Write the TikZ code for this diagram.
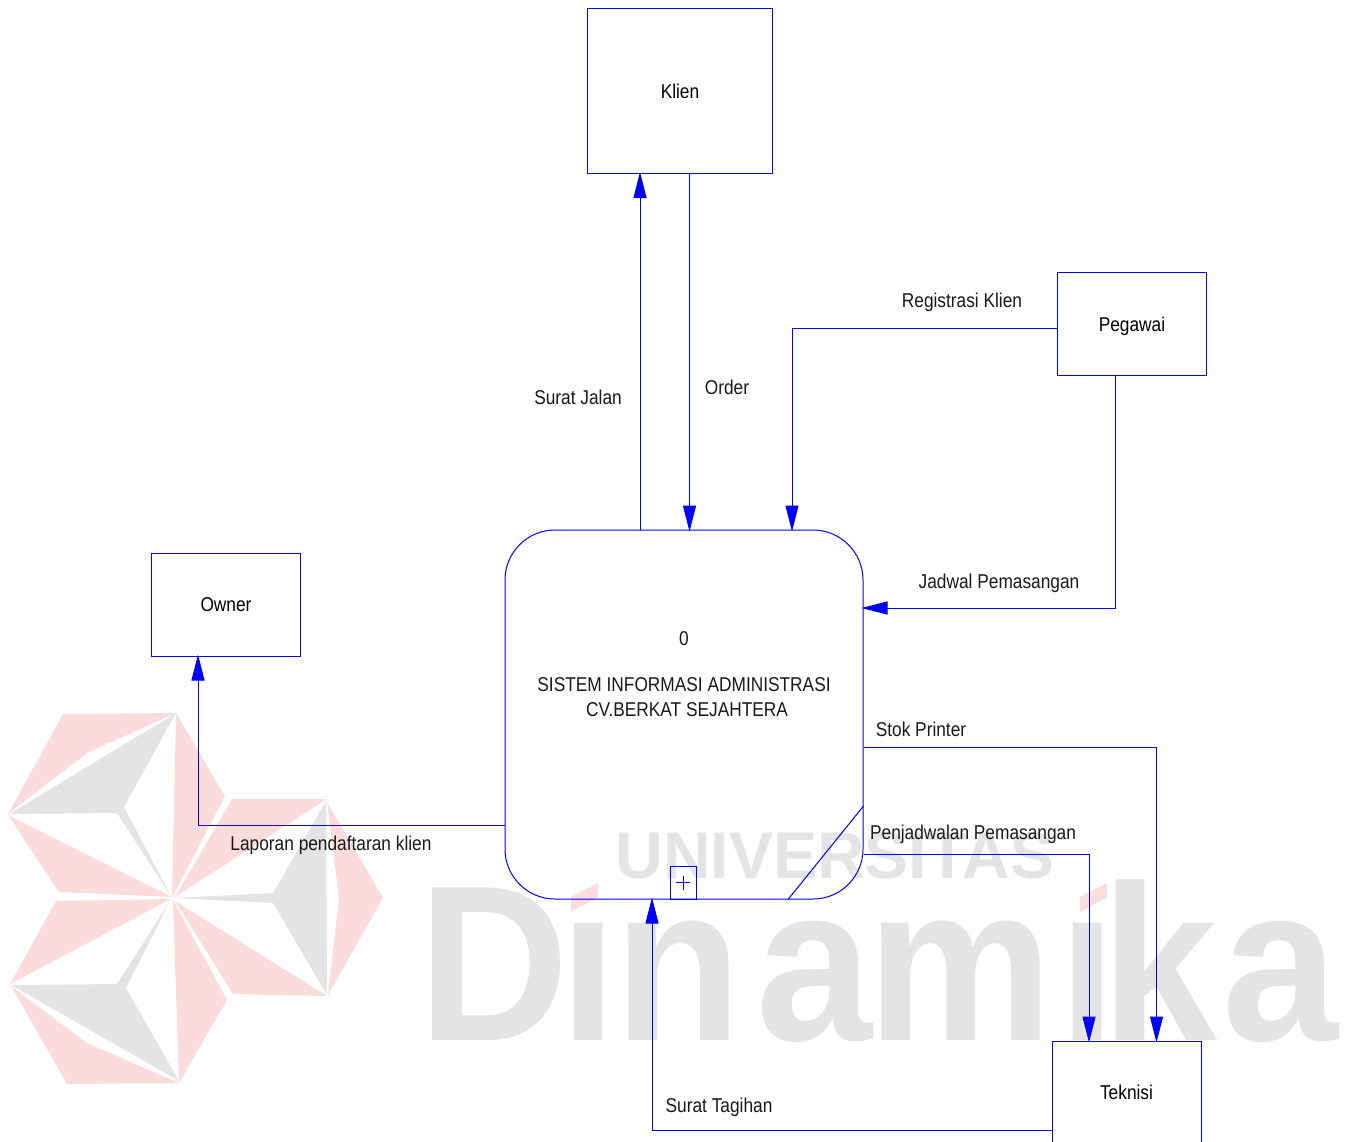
\documentclass[tikz,border=0pt]{standalone}
\usepackage{xcolor}
\usepackage{fontspec}
\setmainfont[FakeStretch=0.865]{Liberation Sans}
\newfontfamily\wmfont{Liberation Sans}
\newfontfamily\wmbigfont[FakeStretch=0.94]{Liberation Sans}
\usetikzlibrary{arrows.meta,positioning,calc}
\definecolor{DFDc}{RGB}{0,0,255}
\definecolor{WMpink}{RGB}{251,220,221}
\definecolor{WMgray}{RGB}{228,228,228}
\tikzset{
  entity/.style={rectangle,draw=DFDc,line width=0.5pt,font=\fontsize{10}{12}\selectfont,
                 minimum width=74.5pt,minimum height=51.5pt,inner sep=0pt,
                 text height=7.2pt,text depth=0pt},
  bigentity/.style={entity,minimum width=92.5pt,minimum height=82.5pt},
  proc/.style={rectangle,rounded corners=25pt,draw=DFDc,line width=0.5pt,
               minimum width=179pt,minimum height=184.5pt,inner sep=0pt},
  subbox/.style={rectangle,draw=DFDc,line width=0.5pt,
                 minimum width=13pt,minimum height=16.5pt,inner sep=0pt,
                 path picture={
                   \draw[DFDc,line width=0.35pt]
                     ([xshift=-3.5pt]path picture bounding box.center) -- ([xshift=3.5pt]path picture bounding box.center)
                     ([yshift=-3.5pt]path picture bounding box.center) -- ([yshift=3.5pt]path picture bounding box.center);}},
  flow/.style={-{Triangle[length=13pt,width=6.5pt]},shorten >=-1pt,DFDc,line width=0.5pt},
  lab/.style={font=\fontsize{10}{12}\selectfont,text=black!90,inner sep=0pt,
              text height=7.2pt,text depth=0pt},
  wmp/.style={fill=WMpink,draw=none},
  wmg/.style={fill=WMgray,draw=none},
}
\begin{document}
\begin{tikzpicture}[x=0.5pt,y=-0.5pt]
  \clip (0,0) rectangle (1368,1141);
  % watermark
  \fill[wmp] (63,714) -- (176,713) -- (87,753) -- (8,814) -- cycle;
  \fill[wmg] (176,713) -- (124,807) -- (172,898) -- (117,813) -- (9,814) -- cycle;
  \fill[wmp] (176,713) -- (225,796) -- (172,898) -- cycle;
  \fill[wmp] (8,815) -- (59,892) -- (172,897) -- cycle;
  \fill[wmp] (56,901) -- (171,899) -- (10,984) -- cycle;
  \fill[wmg] (11,985) -- (117,984) -- (170,901) -- (126,988) -- (179,1081) -- cycle;
  \fill[wmp] (11,986) -- (87,1043) -- (179,1083) -- (67,1084) -- cycle;
  \fill[wmp] (173,900) -- (227,1000) -- (179,1083) -- cycle;
  \fill[wmp] (175,901) -- (327,996) -- (233,994) -- cycle;
  \fill[wmg] (326,801) -- (273,893) -- (175,898) -- (273,903) -- (327,995) -- cycle;
  \fill[wmp] (327,802) -- (383,898) -- (328,995) -- (339,898) -- cycle;
  \fill[wmp] (232,799) -- (327,799) -- (175,897) -- cycle;
  \node[anchor=base west,inner sep=0pt,text=WMgray,font=\wmfont\bfseries\fontsize{33}{33}\selectfont] (wmuni) at (615,878) {UNIVERSITAS};
  \node[anchor=base west,inner sep=0pt,text=WMgray,font=\wmbigfont\bfseries\fontsize{111}{111}\selectfont] (wmdin) at (418,1040)
    {D\kern-5pt ı\kern-1.5pt n\kern7.5pt a\kern-2.5pt m\kern2.5pt ı\kern-7.5pt k\kern2.5pt a};
  \fill[wmp] (571,912) -- (571,897) -- (598,883) -- (598,897) -- cycle;
  \fill[wmp] (1080,912) -- (1080,897) -- (1107,883) -- (1107,897) -- cycle;
  % entities
  \node[bigentity] (klien) at (680,91) {Klien};
  \node[entity] (pegawai) at (1132,324) {Pegawai};
  \node[entity] (owner) at (226,604.5) {Owner};
  \node[entity] (teknisi) at (1126.5,1092.5) {Teknisi};
  \node[proc] (sistem) at (684,714.5) {};
  \node[lab] (nomor) at (684,638) {0};
  \node[lab] (nama1) at (684,684) {SISTEM INFORMASI ADMINISTRASI};
  \node[lab] (nama2) at (687,709) {CV.BERKAT SEJAHTERA};
  \node[subbox] (plus) at (683,882.5) {};
  \draw[DFDc,line width=0.5pt] ([yshift=-45.75pt]sistem.east) -- ([xshift=52pt]sistem.south);
  % flows
  \draw[flow] ([xshift=-22pt]sistem.north) -- ([xshift=-20pt]klien.south);
  \draw[flow] ([xshift=4.75pt]klien.south) -- ([xshift=2.75pt]sistem.north);
  \draw[flow] ([yshift=-2.25pt]pegawai.west) -| ([xshift=54pt]sistem.north);
  \draw[flow] ([xshift=-8.25pt]pegawai.south) |- ([yshift=53.25pt]sistem.east);
  \draw[flow] ([yshift=-16.25pt]sistem.east) -| ([xshift=15pt]teknisi.north);
  \draw[flow] ([yshift=-69.75pt]sistem.east) -| ([xshift=-18.75pt]teknisi.north);
  \draw[flow] ([yshift=-18.75pt]teknisi.west) -| ([xshift=-16pt]sistem.south);
  \draw[flow] ([yshift=-55.25pt]sistem.west) -| ([xshift=-14pt]owner.south);
  % labels
  \node[lab] (ljalan) at (578,397) {Surat Jalan};
  \node[lab] (lorder) at (727,387) {Order};
  \node[lab] (lreg) at (962,300) {Registrasi Klien};
  \node[lab] (ljadwal) at (999,581) {Jadwal Pemasangan};
  \node[lab] (lstok) at (921,729) {Stok Printer};
  \node[lab] (lpenj) at (973,832) {Penjadwalan Pemasangan};
  \node[lab] (llap) at (331,843) {Laporan pendaftaran klien};
  \node[lab] (ltag) at (719,1105) {Surat Tagihan};
\end{tikzpicture}
\end{document}
